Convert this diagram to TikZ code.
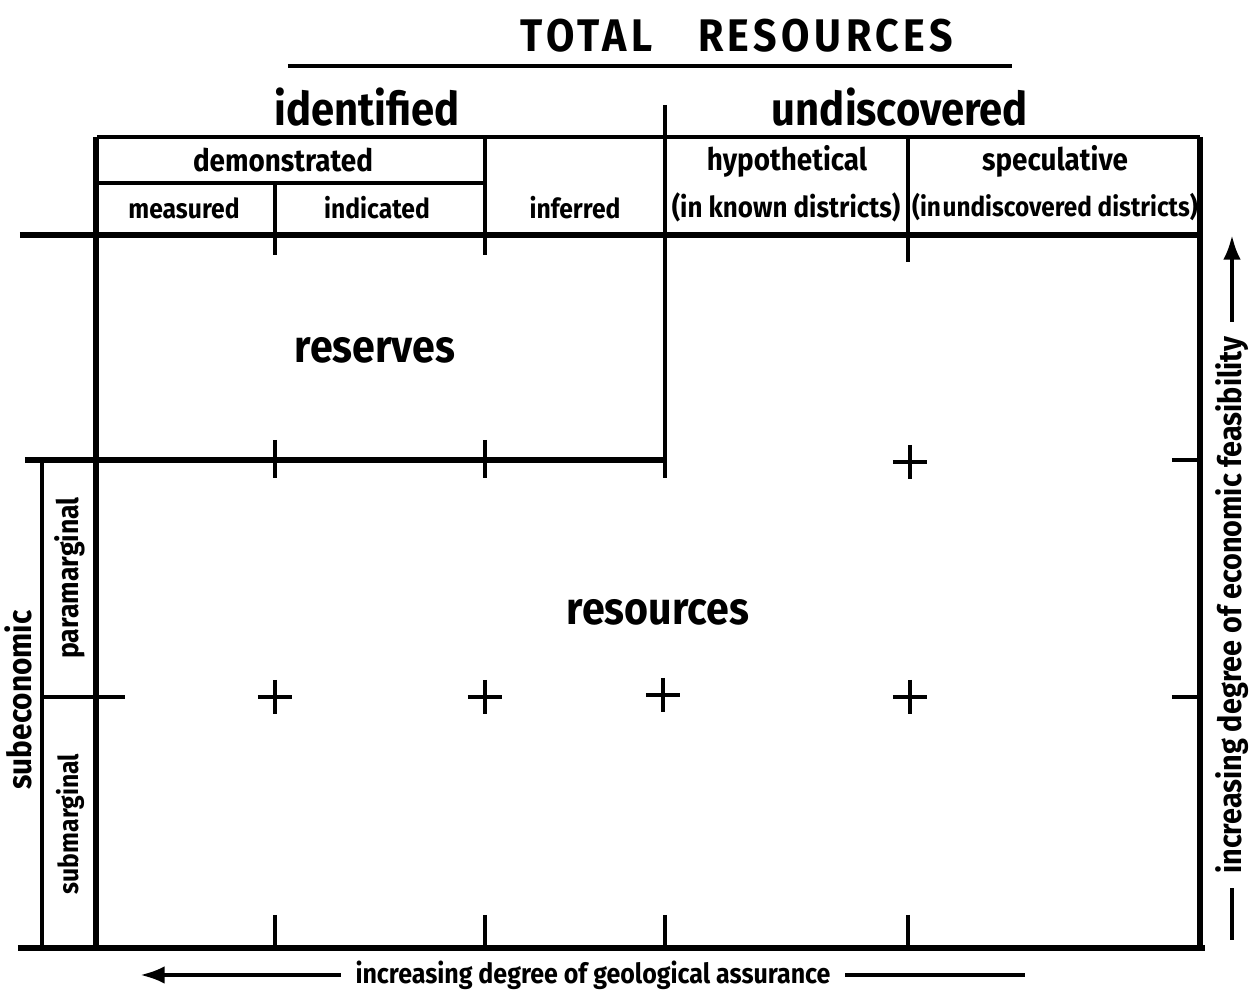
\documentclass[tikz,border=0pt]{standalone}
\usepackage{fontspec}
\setmainfont{Fira Sans}[FakeStretch=0.9]
\usetikzlibrary{arrows.meta}

\tikzset{
  heavy/.style={line width=1.5pt},
  rule/.style={line width=1pt},
  classlbl/.style={font=\bfseries\fontsize{13.2}{15}\selectfont},
  headlbl/.style={font=\bfseries\fontsize{8.8}{10}\selectfont},
  sublbl/.style={font=\bfseries\fontsize{7.8}{9}\selectfont},
  distlbl/.style={font=\bfseries\fontsize{8.2}{10}\selectfont, inner sep=1pt},
  arealbl/.style={font=\bfseries\fontsize{13}{15}\selectfont},
  axislbl/.style={font=\bfseries\fontsize{9.1}{11}\selectfont, inner sep=4pt},
  cross/.style={line width=1pt}
}

\begin{document}
\begin{tikzpicture}[x=0.01cm, y=-0.01cm]
    \useasboundingbox (0,0) rectangle (1259,992);

    % Title
    \node (title) at (737,36) {\bfseries\fontsize{13}{15}\selectfont\addfontfeatures{LetterSpace=10}TOTAL\quad RESOURCES};
    \draw[line width=1.3pt] (288,66) -- (1012,66);

    % Main classes
    \node[classlbl] (ident) at (367,107) {identified};
    \node[classlbl] (undisc) at (900,107) {undiscovered};

    % Header box
    \draw[rule] (97,137) -- (1200,137);
    \draw[rule] (97,183) -- (485,183);
    \draw[rule] (275,183) -- (275,255);
    \draw[rule] (485,137) -- (485,255);
    \draw[rule] (908,137) -- (908,262);
    \draw[rule] (665,105) -- (665,478);

    % Frame
    \draw[heavy] (20,235) -- (1202,235);
    \draw[heavy] (96,137) -- (96,948);
    \draw[heavy] (1200,137) -- (1200,948);
    \draw[heavy] (18,948) -- (1205,948);

    % Reserves boundary
    \draw[heavy] (25,460) -- (665,460);
    \draw[rule] (275,440) -- (275,478);
    \draw[rule] (485,440) -- (485,478);
    \draw[rule] (1172,460) -- (1200,460);
    \draw[rule] (1172,697) -- (1200,697);

    % Subeconomic box
    \draw[rule] (42,460) -- (42,948);
    \draw[rule] (42,697) -- (125,697);

    % Bottom ticks
    \foreach \x in {275,485,665,908}
      \draw[rule] (\x,915) -- (\x,948);

    % Crosses
    \foreach \x/\y in {275/697, 485/697, 663/695, 910/697, 910/462}
      \draw[cross] (\x-17,\y) -- (\x+17,\y) (\x,\y-17) -- (\x,\y+17);

    % Header labels
    \node[headlbl] (demo) at (283,160) {demonstrated};
    \node[sublbl] (meas) at (184,208) {measured};
    \node[sublbl] (indic) at (377,208) {indicated};
    \node[sublbl] (infer) at (575,208) {inferred};
    \node[headlbl] (hypo) at (787,161) {hypothetical};
    \node[distlbl] (known) at (786,207) {(in known districts)};
    \node[headlbl] (spec) at (1055,161) {speculative};
    \node[distlbl, font=\bfseries\fontsize{7.7}{10}\selectfont] (undist) at (1055,207) {(in\hspace{0.06em}undiscovered districts)};

    % Areas
    \node[arealbl] (reserves) at (375,350) {reserves};
    \node[arealbl] (resources) at (658,612) {resources};

    % Subeconomic labels
    \node[headlbl, font=\bfseries\fontsize{9.4}{11}\selectfont, rotate=90] (subecon) at (18,700) {subeconomic};
    \node[sublbl, font=\bfseries\fontsize{8.4}{10}\selectfont, rotate=90] (para) at (70,578) {paramarginal};
    \node[sublbl, rotate=90] (submarg) at (70,824) {submarginal};

    % Axes
    \coordinate (econtop) at (1232,235);
    \coordinate (econbot) at (1232,940);
    \node[axislbl, rotate=90] (econ) at (1232,605) {increasing degree of economic feasibility};
    \draw[line width=1.2pt, -{Latex[length=7pt,width=5pt]}] (econ.east) -- (econtop);
    \draw[line width=1.2pt] (econ.west) -- (econbot);

    \coordinate (geoleft) at (140,975);
    \coordinate (georight) at (1025,975);
    \node[axislbl, font=\bfseries\fontsize{7.9}{10}\selectfont] (geo) at (593,975) {increasing degree of geological assurance};
    \draw[line width=1.2pt, -{Latex[length=7pt,width=5pt]}] (geo.west) -- (geoleft);
    \draw[line width=1.2pt] (geo.east) -- (georight);
\end{tikzpicture}
\end{document}
